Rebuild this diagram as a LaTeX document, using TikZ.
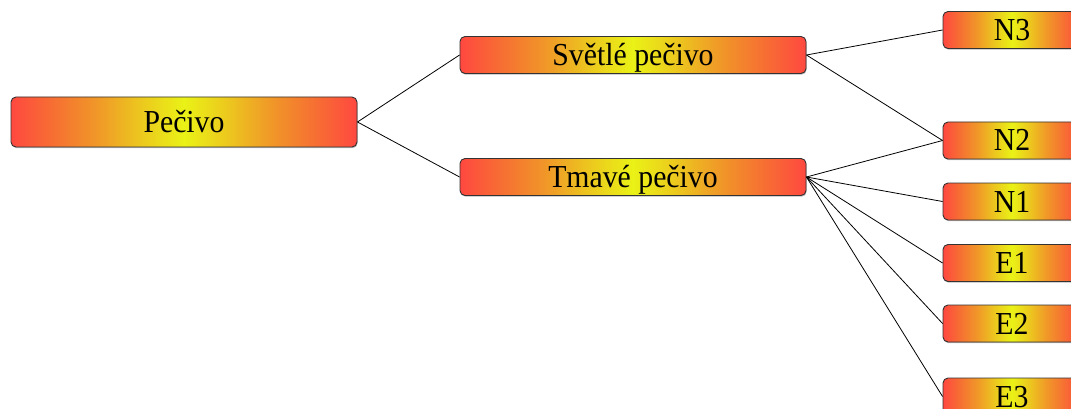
\documentclass[tikz,border=0pt]{standalone}
\usepackage{fontspec}
\usetikzlibrary{shadows}
\newfontfamily\labelfont[FakeStretch=0.93]{Liberation Serif}
\definecolor{edgered}{RGB}{255,72,64}
\definecolor{redorange}{RGB}{246,112,50}
\definecolor{midorange}{RGB}{240,152,40}
\definecolor{lightorange}{RGB}{236,200,30}
\definecolor{coreyellow}{RGB}{234,242,22}
\pgfdeclarehorizontalshading{boxshade}{100bp}{%
  color(0bp)=(edgered); color(25bp)=(edgered); color(31.25bp)=(redorange);
  color(37.5bp)=(midorange); color(43.75bp)=(lightorange); color(50bp)=(coreyellow);
  color(56.25bp)=(lightorange); color(62.5bp)=(midorange); color(68.75bp)=(redorange);
  color(75bp)=(edgered); color(100bp)=(edgered)}
\begin{document}
\begin{tikzpicture}[x=1pt,y=-1pt,
  item/.style={draw=black!80, line width=0.9pt, rounded corners=5pt,
    shading=boxshade, inner sep=0pt, text height=21pt, text depth=0pt,
    drop shadow={shadow xshift=0.6pt, shadow yshift=-1.2pt, opacity=0.45, fill=black!60},
    font=\labelfont\fontsize{32}{36}\selectfont},
  wide/.style={item, minimum width=346pt, minimum height=37pt},
  leaf/.style={item, minimum width=138pt, minimum height=37pt},
  link/.style={draw=black, line width=0.8pt}]
\useasboundingbox (0,0) rectangle (1071,409);
% root and second level
\node[item, minimum width=346pt, minimum height=50pt] (root) at (184,122) {Pečivo};
\node[wide] (light) at (633,55) {Světlé pečivo};
\node[wide] (dark) at (633,177) {Tmavé pečivo};
% leaves
\node[leaf] (n3) at (1012,30) {N3};
\node[leaf] (n2) at (1012,140.5) {N2};
\node[leaf] (n1) at (1012,201.5) {N1};
\node[leaf] (e1) at (1012,263) {E1};
\node[leaf] (e2) at (1012,323.5) {E2};
\node[leaf] (e3) at (1012,396.5) {E3};
% connectors
\draw[link] (root.east) -- (light.west);
\draw[link] (root.east) -- (dark.west);
\draw[link] (light.east) -- (n3.west);
\draw[link] (light.east) -- (n2.west);
\foreach \t in {n2,n1,e1,e2,e3}
  \draw[link] (dark.east) -- (\t.west);
\end{tikzpicture}
\end{document}
